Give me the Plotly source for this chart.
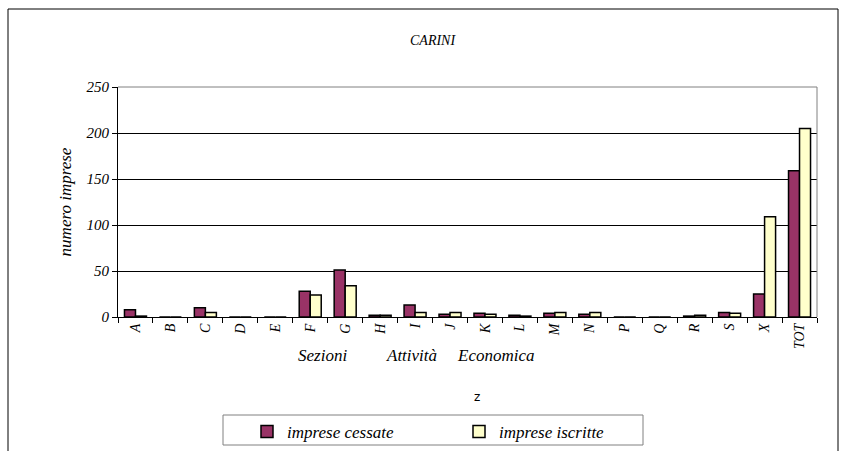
import plotly.graph_objects as go

categories = ["A", "B", "C", "D", "E", "F", "G", "H", "I", "J", "K", "L", "M", "N", "P", "Q", "R", "S", "X", "TOT"]
cessate = [8, 0, 10, 0, 0, 28, 51, 2, 13, 3, 4, 2, 4, 3, 0, 0, 1, 5, 25, 159]
iscritte = [1, 0, 5, 0, 0, 24, 34, 2, 5, 5, 3, 1, 5, 5, 0, 0, 2, 4, 109, 205]
y_ticks = [0, 50, 100, 150, 200, 250]

SERIF = "Liberation Serif"
W, H = 841, 451
L, R, T, B = 118, 24, 87, 134
PW, PH = W - L - R, H - T - B

def px(x):
    return (x - L) / PW

def py(y):
    return (H - B - y) / PH

fig = go.Figure()
fig.add_trace(go.Bar(x=categories, y=cessate, name="imprese cessate",
                     marker=dict(color="#993366", line=dict(color="black", width=1.5))))
fig.add_trace(go.Bar(x=categories, y=iscritte, name="imprese iscritte",
                     marker=dict(color="#FFFFCC", line=dict(color="black", width=1.5))))

fig.update_layout(
    width=W, height=H,
    margin=dict(l=L, r=R, t=T, b=B, autoexpand=False),
    paper_bgcolor="white", plot_bgcolor="white",
    barmode="group", bargap=0.37, bargroupgap=0,
    showlegend=True,
    legend=dict(orientation="h", xref="container", yref="container",
                x=247 / W, y=1 - 432 / H, xanchor="left", yanchor="middle",
                borderwidth=0, bgcolor="rgba(0,0,0,0)",
                font=dict(family=SERIF, size=17, color="black", style="italic"),
                entrywidth=167, itemwidth=30, tracegroupgap=0),
    font=dict(family=SERIF, color="black"),
)
fig.update_xaxes(
    type="category", tickangle=-90, automargin=False,
    tickfont=dict(family=SERIF, size=14, color="black", style="italic"),
    showline=True, linecolor="black", linewidth=1,
    ticks="outside", ticklen=5, tickcolor="black", tickson="boundaries",
    showgrid=False,
)
fig.update_yaxes(
    range=[0, 250], tickvals=y_ticks, automargin=False,
    tickfont=dict(family=SERIF, size=15, color="black", style="italic"),
    showline=True, linecolor="black", linewidth=1,
    ticks="outside", ticklen=5, tickcolor="black",
    showgrid=True, gridcolor="black", gridwidth=1,
    zeroline=False,
    title=dict(text="numero imprese", font=dict(family=SERIF, size=17, style="italic"), standoff=10),
)

# plot area border (top and right) in gray
fig.add_shape(type="line", xref="paper", yref="paper", x0=0, x1=1, y0=1, y1=1,
              line=dict(color="#808080", width=1))
fig.add_shape(type="line", xref="paper", yref="paper", x0=1, x1=1, y0=0, y1=1,
              line=dict(color="#808080", width=1))
# outer chart frame
fig.add_shape(type="rect", xref="paper", yref="paper", x0=px(8), x1=px(838), y0=py(470), y1=py(9),
              line=dict(color="black", width=1))
# legend frame
fig.add_shape(type="rect", xref="paper", yref="paper", x0=px(223), x1=px(643), y0=py(445), y1=py(415),
              line=dict(color="#808080", width=1))

def label(text, cx, cy, font):
    fig.add_annotation(text=text, xref="paper", yref="paper", x=px(cx), y=py(cy),
                       xanchor="center", yanchor="middle", showarrow=False, font=font)

label("CARINI", 433, 40, dict(family=SERIF, size=14, style="italic"))
for txt, cx in [("Sezioni", 322), ("Attività", 411), ("Economica", 495)]:
    label(txt, cx, 355, dict(family=SERIF, size=17, style="italic"))
label("z", 477, 397, dict(family="DejaVu Sans", size=12))

fig.write_html("out.html", config={"displayModeBar": False},
               post_script="document.body.style.margin='0';")
